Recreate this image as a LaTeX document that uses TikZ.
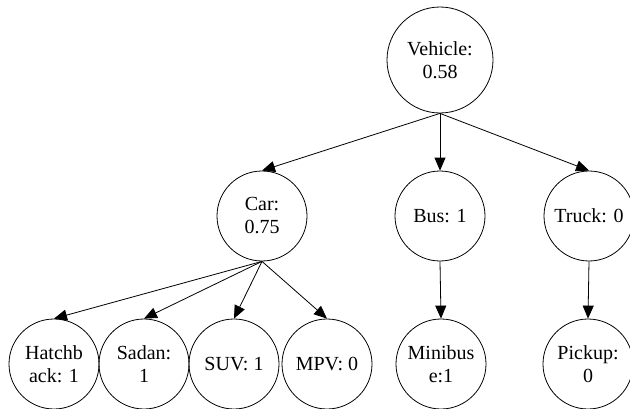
\documentclass[tikz,border=0pt]{standalone}
\usepackage{fontspec}
\setmainfont{Liberation Serif}
\usetikzlibrary{arrows.meta}
\tikzset{class/.style = {draw, circle, line width=0.8pt, inner sep=0pt,
                         minimum size=90pt, align=center,
                         font=\fontsize{20}{23}\selectfont}}
\tikzset{edgearrow/.style = {line width=0.8pt,
                             -{Triangle[length=13pt, width=11pt]}}}

\begin{document}
\begin{tikzpicture}[x=1pt, y=1pt]
      \useasboundingbox (0, 0) rectangle (630, 408);

      \node [class, minimum size=106pt] (vehicle) at (440, 348) {Vehicle:\\0.58};

      \node [class] (car) at (262, 192) {Car:\\0.75};
      \node [class] (bus) at (440, 192) {Bus: 1};
      \node [class] (truck) at (589, 192) {Truck: 0};

      \node [class] (hatchback) at (54, 44) {Hatchb\\ack: 1};
      \node [class] (sadan) at (144, 44) {Sadan:\\1};
      \node [class] (suv) at (234, 44) {SUV: 1};
      \node [class] (mpv) at (327, 44) {MPV: 0};
      \node [class] (minibus) at (441, 44) {Minibus\\e:1};
      \node [class] (pickup) at (588, 44) {Pickup:\\0};

      \draw [edgearrow] (vehicle.south) -- (car.north);
      \draw [edgearrow] (vehicle.south) -- (bus.north);
      \draw [edgearrow] (vehicle.south) -- (truck.north);

      \draw [edgearrow] (car.south) -- (hatchback.north);
      \draw [edgearrow] (car.south) -- (sadan.north);
      \draw [edgearrow] (car.south) -- (suv.north);
      \draw [edgearrow] (car.south) -- (mpv.north);

      \draw [edgearrow] (bus.south) -- (minibus.north);
      \draw [edgearrow] (truck.south) -- (pickup.north);
    \end{tikzpicture}
\end{document}
